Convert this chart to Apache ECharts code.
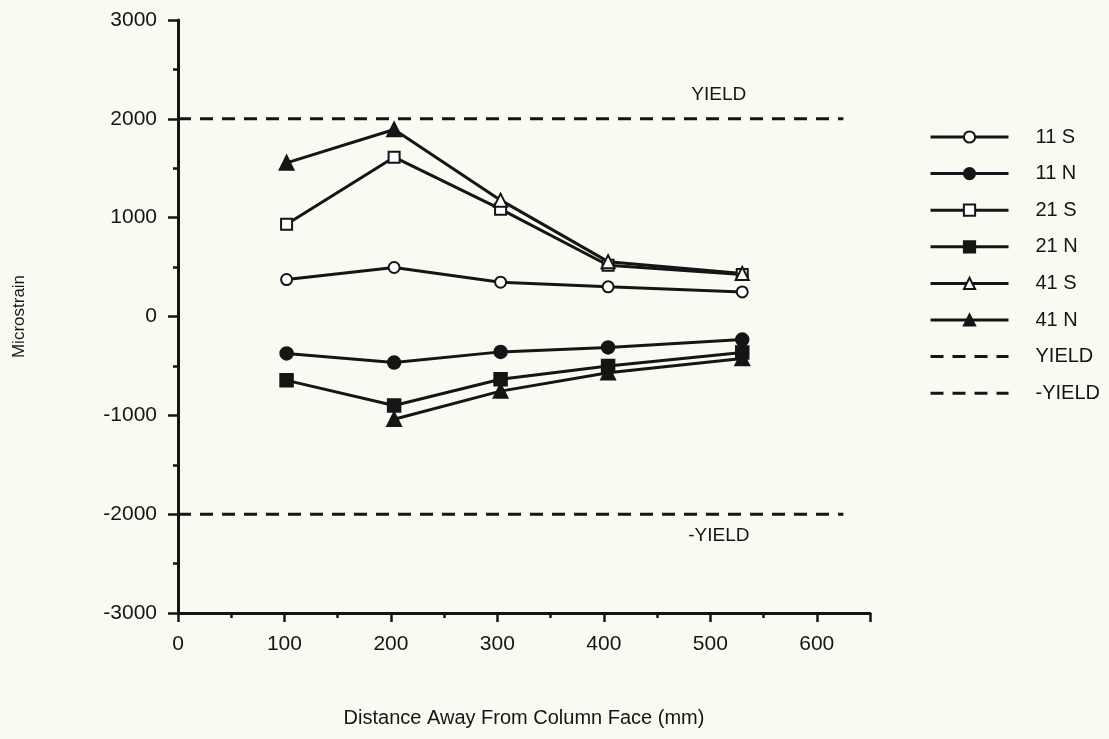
<!DOCTYPE html>
<html>
<head>
<meta charset="utf-8">
<script src="https://cdn.jsdelivr.net/npm/echarts@6/dist/echarts.min.js"></script>
<style>
  html, body { margin: 0; padding: 0; background: #fafaf3; }
  #chart { width: 1109px; height: 739px; }
</style>
</head>
<body>
<div id="chart"></div>
<script>
// ---- data ----
const xValues = [102, 203, 303, 404, 530];           // distance from column face (mm)
const s11S = [374, 496, 347, 300, 249];
const s11N = [-374, -466, -358, -313, -233];
const s21S = [934, 1612, 1086, 519, 425];
const s21N = [-646, -900, -635, -500, -365];
const s41S = [1554, 1892, 1177, 555, 435];
const s41N = [null, -1040, -755, -570, -425];
const yieldLevel = 2000;
const yieldRangeX = [0, 625];
const xTicks = [0, 100, 200, 300, 400, 500, 600];
const yTicks = [-3000, -2000, -1000, 0, 1000, 2000, 3000];
const legendNames = ['11 S', '11 N', '21 S', '21 N', '41 S', '41 N', 'YIELD', '-YIELD'];

const INK = '#151515';
const FONT = 'Liberation Sans, Arial, Helvetica, sans-serif';

function pairs(vals) {
  return xValues.map((x, i) => [x, vals[i]]).filter(p => p[1] !== null);
}

function lineSeries(name, vals, symbol, size, mapItem) {
  let data = pairs(vals);
  if (mapItem) data = data.map(mapItem);
  return {
    name: name,
    type: 'line',
    data: data,
    symbol: symbol,
    symbolSize: size,
    showAllSymbol: true,
    lineStyle: { color: INK, width: 3 },
    itemStyle: { color: INK, borderColor: INK, borderWidth: 2.5 },
    emphasis: { disabled: true },
    z: 3
  };
}

const yieldSeries = (name, level, labelText, offsetY) => ({
  name: name,
  type: 'line',
  data: yieldRangeX.map(x => [x, level]),
  symbol: 'none',
  lineStyle: { color: INK, width: 3, type: [13, 9] },
  itemStyle: { color: INK },
  emphasis: { disabled: true },
  markPoint: {
    symbol: 'circle',
    symbolSize: 0,
    silent: true,
    data: [{ coord: [508, level] }],
    label: {
      show: true,
      formatter: labelText,
      color: INK,
      fontSize: 19,
      fontFamily: FONT,
      offset: [0, offsetY]
    }
  },
  z: 2
});

const chart = echarts.init(document.getElementById('chart'));
chart.setOption({
  backgroundColor: '#fafaf3',
  animation: false,
  grid: { left: 178, top: 20, width: 692, height: 593 },
  xAxis: {
    type: 'value',
    min: 0, max: 650, interval: 100,
    name: 'Distance Away From Column Face (mm)',
    nameLocation: 'middle',
    nameGap: 95,
    nameTextStyle: { color: INK, fontSize: 20, fontFamily: FONT },
    axisLine: { show: true, onZero: false, lineStyle: { color: INK, width: 3 } },
    axisTick: { show: true, length: 9, lineStyle: { color: INK, width: 2.5 } },
    minorTick: { show: true, splitNumber: 2, length: 5, lineStyle: { color: INK, width: 2.5 } },
    splitLine: { show: false },
    axisLabel: {
      color: INK, fontSize: 21, fontFamily: FONT, margin: 21,
      formatter: v => (xTicks.indexOf(v) >= 0 ? String(v) : '')
    }
  },
  yAxis: {
    type: 'value',
    min: -3000, max: 3000, interval: 1000,
    name: 'Microstrain',
    nameLocation: 'middle',
    nameGap: 150,
    nameRotate: 90,
    nameTextStyle: { color: INK, fontSize: 17, fontFamily: FONT },
    axisLine: { show: true, onZero: false, lineStyle: { color: INK, width: 3 } },
    axisTick: { show: true, length: 10, lineStyle: { color: INK, width: 2.5 } },
    minorTick: { show: true, splitNumber: 2, length: 5, lineStyle: { color: INK, width: 2.5 } },
    splitLine: { show: false },
    axisLabel: {
      color: INK, fontSize: 21, fontFamily: FONT, margin: 21,
      formatter: v => (yTicks.indexOf(v) >= 0 ? String(v) : '')
    }
  },
  legend: {
    left: 924,
    top: 122,
    orient: 'vertical',
    itemWidth: 78,
    itemHeight: 14,
    itemGap: 16.6,
    selectedMode: false,
    lineStyle: { width: 3 },
    textStyle: { color: INK, fontSize: 20, fontFamily: FONT, padding: [0, 0, 0, 22] },
    data: legendNames.map(n => (n.indexOf('YIELD') >= 0
      ? { name: n, itemStyle: { color: 'rgba(0,0,0,0)', borderColor: 'rgba(0,0,0,0)', borderWidth: 0 } }
      : n))
  },
  series: [
    lineSeries('11 S', s11S, 'emptyCircle', 11),
    lineSeries('11 N', s11N, 'circle', 12),
    lineSeries('21 S', s21S, 'emptyRect', 11),
    lineSeries('21 N', s21N, 'rect', 12),
    // first two 41 S markers print as solid triangles in the reference
    lineSeries('41 S', s41S, 'emptyTriangle', 13,
      (p, i) => (i < 2 ? { value: p, symbol: 'triangle' } : p)),
    lineSeries('41 N', s41N, 'triangle', 13),
    yieldSeries('YIELD', yieldLevel, 'YIELD', -24),
    yieldSeries('-YIELD', -yieldLevel, '-YIELD', 22)
  ]
});
</script>
</body>
</html>
